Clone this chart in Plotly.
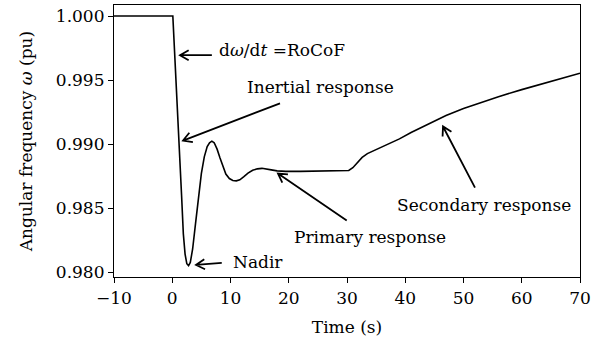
import math
import plotly.graph_objects as go

# ---- data ----
time_s = [-10, 0, 0.1, 0.4, 0.7, 1.0, 1.3, 1.6, 1.9, 2.2, 2.5, 2.8, 3.1, 3.5, 4.0, 4.5,
          5.0, 5.5, 6.0, 6.4, 6.8, 7.2, 7.7, 8.2, 8.7, 9.2, 9.8, 10.4, 11.0, 11.6, 12.3,
          13.0, 13.8, 14.6, 15.4, 16.2, 17.0, 18.0, 19.5, 22, 25, 28, 30.3, 31.0, 31.8,
          32.6, 33.5, 34.5, 35.5, 37, 39, 41, 43, 45, 47, 50, 53, 56, 60, 65, 70]
omega = [1.0, 1.0, 1.0, 0.9972, 0.9946, 0.9920, 0.9893, 0.9860, 0.9830, 0.9814, 0.98065,
         0.9805, 0.98075, 0.9818, 0.9838, 0.9860, 0.9877, 0.9890, 0.9898, 0.99010, 0.99022,
         0.99010, 0.9896, 0.9889, 0.9882, 0.98765, 0.98730, 0.98715, 0.98712, 0.98720,
         0.98745, 0.98772, 0.98795, 0.98806, 0.98810, 0.98806, 0.98798, 0.98790, 0.98786,
         0.98786, 0.98789, 0.98791, 0.98793, 0.98815, 0.98855, 0.98895, 0.98925, 0.98946,
         0.98962, 0.98995, 0.99040, 0.99090, 0.99135, 0.99180, 0.99222, 0.99278, 0.99325,
         0.99370, 0.99425, 0.99490, 0.99553]

x_ticks = [-10, 0, 10, 20, 30, 40, 50, 60, 70]
y_ticks = [0.980, 0.985, 0.990, 0.995, 1.000]

# annotation texts, text anchor positions, arrow tails and tips (data coords)
ann_text = ["d<i>ω</i>/d<i>t</i> =RoCoF", "Inertial response", "Nadir",
            "Primary response", "Secondary response"]
ann_xy = [(7.6, 0.99733), (25.4, 0.99443), (10.0, 0.98078), (33.95, 0.98275), (53.6, 0.98525)]
ann_anchor = ["left", "center", "left", "center", "center"]
arrow_tail = [(6.8, 0.99694), (18.5, 0.99318), (8.5, 0.98071), (29.95, 0.98402), (51.97, 0.98659)]
arrow_tip = [(1.33, 0.99694), (1.85, 0.99027), (4.08, 0.98055), (18.15, 0.98769), (46.48, 0.99137)]

# ---- layout geometry ----
W, H = 604, 347
ML, MR, MT, MB = 114, 24, 5, 70
XR = [-10, 70]
YR = [0.97961, 1.00086]
sx = (W - ML - MR) / (XR[1] - XR[0])
sy = (H - MT - MB) / (YR[1] - YR[0])

FONT = "DejaVu Serif"
FS = 17

fig = go.Figure()
fig.add_trace(go.Scatter(x=time_s, y=omega, mode="lines",
                         line=dict(color="black", width=1.6),
                         showlegend=False, hoverinfo="skip"))

shapes = []
for (tx, ty), (hx, hy) in zip(arrow_tail, arrow_tip):
    dxp = (hx - tx) * sx
    dyp = (hy - ty) * sy
    L = math.hypot(dxp, dyp)
    ux, uy = dxp / L, dyp / L
    hl = 10.0
    ang = math.radians(30)
    pts = []
    for s in (1, -1):
        ca, sa = math.cos(s * ang), math.sin(s * ang)
        bx = -(ux * ca - uy * sa) * hl
        by = -(ux * sa + uy * ca) * hl
        pts.append((hx + bx / sx, hy + by / sy))
    path = (f"M {tx},{ty} L {hx},{hy} "
            f"M {pts[0][0]},{pts[0][1]} L {hx},{hy} L {pts[1][0]},{pts[1][1]}")
    shapes.append(dict(type="path", path=path, xref="x", yref="y",
                       line=dict(color="black", width=1.8)))

annotations = []
for t, (ax_, ay_), anc in zip(ann_text, ann_xy, ann_anchor):
    annotations.append(dict(x=ax_, y=ay_, xref="x", yref="y", text=t, showarrow=False,
                            xanchor=anc, yanchor="middle",
                            font=dict(family=FONT, size=FS, color="black")))

fig.update_layout(
    width=W, height=H,
    margin=dict(l=ML, r=MR, t=MT, b=MB),
    paper_bgcolor="white", plot_bgcolor="white",
    shapes=shapes, annotations=annotations,
    font=dict(family=FONT, size=FS, color="black"),
    xaxis=dict(range=XR, tickvals=x_ticks, ticks="outside", ticklen=5, tickwidth=1,
               tickcolor="black", showline=True, linecolor="black", linewidth=1.2,
               mirror=True, showgrid=False, zeroline=False,
               title=dict(text="Time (s)", standoff=14, font=dict(family=FONT, size=FS)),
               tickfont=dict(family=FONT, size=FS)),
    yaxis=dict(range=YR, tickvals=y_ticks, tickformat=".3f", ticks="outside", ticklen=5,
               tickwidth=1, tickcolor="black", showline=True, linecolor="black",
               linewidth=1.2, mirror=True, showgrid=False, zeroline=False,
               title=dict(text="Angular frequency <i>ω</i> (pu)", standoff=18,
                          font=dict(family=FONT, size=FS)),
               tickfont=dict(family=FONT, size=FS)),
)

fig.write_html("out.html")
